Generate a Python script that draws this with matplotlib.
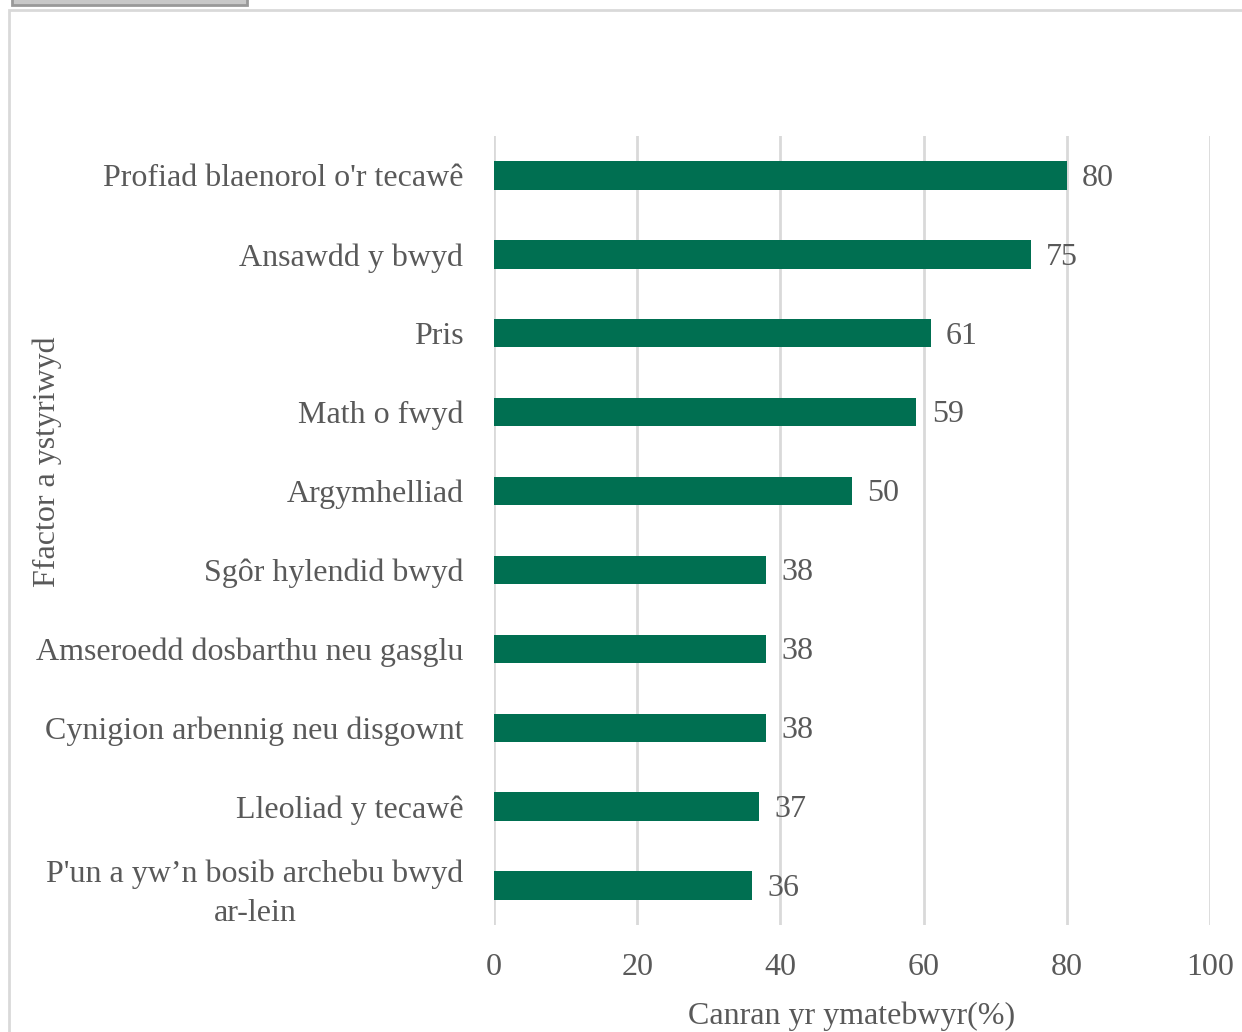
import numpy as np
import matplotlib.pyplot as plt
from matplotlib.patches import Rectangle

categories = [
    "Profiad blaenorol o'r tecawê",
    "Ansawdd y bwyd",
    "Pris",
    "Math o fwyd",
    "Argymhelliad",
    "Sgôr hylendid bwyd",
    "Amseroedd dosbarthu neu gasglu",
    "Cynigion arbennig neu disgownt",
    "Lleoliad y tecawê",
    "P'un a yw\u2019n bosib archebu bwyd\nar-lein",
]
values = [80, 75, 61, 59, 50, 38, 38, 38, 37, 36]
xticks = [0, 20, 40, 60, 80, 100]

plt.rcParams["font.family"] = ["Liberation Serif", "DejaVu Serif"]
text_col = "#595959"
bar_col = "#006F51"
grid_col = "#D9D9D9"
fs = 23

fig = plt.figure(figsize=(12.42, 10.32), dpi=100)

# outer chart frame and the grey tab at the top
fig.patches.append(Rectangle((9 / 1242, -0.1), 1.2, 1 - 10 / 1032 + 0.1,
                             transform=fig.transFigure, fill=False,
                             edgecolor=grid_col, linewidth=2))
fig.patches.append(Rectangle((12 / 1242, 1 - 5 / 1032), 235 / 1242, 0.05,
                             transform=fig.transFigure, facecolor="#C8C8C8",
                             edgecolor="#999999", linewidth=2))

ax = fig.add_axes([494 / 1242, 1 - 925 / 1032, 716 / 1242, 789 / 1032])

y = np.arange(len(categories))
ax.barh(y, values, height=0.36, color=bar_col, zorder=3)
for yi, v in zip(y, values):
    ax.annotate(str(v), (v, yi), xytext=(11, -2), textcoords="offset points",
                ha="left", va="center", fontsize=fs, color=text_col)

ax.set_xlim(0, 100)
ax.set_ylim(len(categories) - 0.5, -0.5)
ax.set_xticks(xticks)
ax.set_xticklabels([str(t) for t in xticks])
ax.set_yticks(y)
ax.set_yticklabels(categories, multialignment="center", linespacing=1.45)
ax.tick_params(axis="both", length=0, labelsize=fs, labelcolor=text_col)
ax.tick_params(axis="x", pad=20)
ax.tick_params(axis="y", pad=22)
ax.grid(axis="x", color=grid_col, linewidth=2, zorder=0)
for s in ax.spines.values():
    s.set_visible(False)

ax.set_xlabel("Canran yr ymatebwyr(%)", fontsize=fs, color=text_col, labelpad=14)
fig.text(47 / 1242, 1 - 462 / 1032, "Ffactor a ystyriwyd", rotation=90,
         ha="center", va="center", fontsize=fs, color=text_col)

fig.savefig("out.png", dpi=100)
plt.close(fig)
